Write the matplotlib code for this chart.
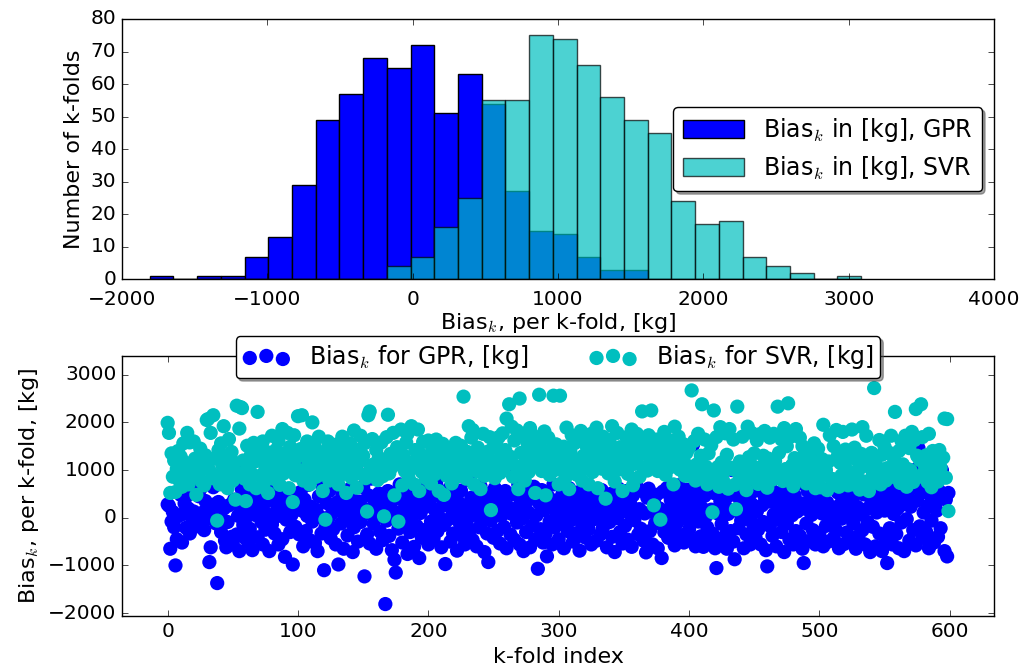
import matplotlib
matplotlib.use('Agg')
import matplotlib.pyplot as plt
import numpy as np

# histogram bin counts (30 bins starting at -1810 kg)
bin_start = -1810
bin_width = 163.2
gpr_counts = [1, 0, 1, 1, 7, 13, 29, 49, 57, 68, 65, 72, 51, 63, 54,
              27, 15, 14, 7, 3, 3, 0, 0, 0, 0, 0, 0, 0, 0, 0]
svr_counts = [0, 0, 0, 0, 0, 0, 0, 0, 0, 0, 4, 7, 16, 25, 55,
              55, 75, 74, 66, 56, 49, 45, 24, 17, 18, 7, 4, 2, 0, 1]

# bias per k-fold [kg], estimated from the bottom panel
gpr_bias = [
    280, 250, -650, -80, 120, -200, -1000, -450, 30, 560, 480, -520, 80, 300, -210, 470, 190, -330, 60, -90, 130, 520, 20, -180, 450,
    600, -40, 110, -260, 350, 80, -10, -930, -620, 150, 640, 280, -120, -1370, 330, 10, -300, 720, 190, -480, -620, -90, 260, 810, -400,
    -560, 380, 1080, -350, 40, -700, 220, 590, -150, -420, 0, 460, -520, -230, 150, -680, 320, 60, 1490, -410, 200, 530, -90, -560, 300,
    -250, 80, 680, -700, 380, -140, 410, -330, 20, 250, -560, 570, 110, -450, 360, -820, -40, 160, 520, -300, 60, -980, 440, -190, 280,
    1050, -350, 540, 150, -600, 380, -280, 40, 690, -470, 230, -80, 820, -530, 170, -700, 450, 20, -330, 620, -1100, -210, 310, -40, 560,
    -430, 90, -240, 740, -560, 320, -980, 180, -120, 480, -650, 30, 260, -370, 590, -60, 410, -720, -200, 150, 1000, -500, 340, -90, 220,
    640, -1230, 90, -350, 470, -540, 820, 210, -120, 380, -650, 60, 510, -290, 170, -470, 300, -1810, -60, 560, -380, 240, -680, 30, -880,
    -1150, 410, -230, 700, 120, -520, 350, -90, 600, -760, 180, -300, 480, 50, -610, 290, -170, 530, -845, 100, -420, 650, 220, -250, 380,
    -560, 300, -80, 540, -430, 160, 720, -280, 20, 450, -620, 250, -150, -971, 380, -40, 610, -500, 180, -330, 90, 490, -690, 330, -110,
    570, -380, 140, -560, 260, -30, 790, -250, 420, -470, 60, 310, -600, 180, -200, 660, -90, 390, -720, 120, -330, -929, 500, -60, 270,
    -420, 620, 150, -280, 450, -540, 40, 330, -190, 560, -640, 230, 1070, -350, 80, 490, -460, 190, -100, 700, -560, 360, -20, -700, 260,
    -300, 520, 110, -620, 400, -160, 650, -450, 50, -1070, 310, -240, 580, -520, 160, -330, -810, 440, -80, 260, -560, 700, -200, 120, 370,
    -450, 230, -120, 510, -640, 80, 360, -280, 620, -60, 170, -500, 420, -330, 30, 280, -690, 560, -150, 340, -410, 90, 650, -240, 190,
    -560, 450, -30, 300, -480, 1520, 120, -350, 580, -200, 40, 390, -620, 230, -90, 500, -400, 160, -720, 330, -10, 610, -300, 210, -540,
    380, -170, 560, -460, 100, 290, -610, 470, -50, 600, 650, -350, 180, -230, 560, -480, 90, -727, 420, 610, -280, 130, -560, 340, -120,
    480, -640, 200, -60, -845, 550, -300, 150, 620, -420, 30, 370, -190, 520, -580, 240, -100, 680, -360, 110, 420, -520, 270, -30, 590,
    -250, 380, -470, 1530, 120, -600, 310, -80, 560, -390, 200, -610, 460, 30, -200, 640, -480, 170, -330, 520, -640, -1055, 90, -560, 350,
    -130, 600, -400, 240, -650, 80, 470, -280, 1000, -500, -870, 150, 570, -220, 380, -60, 720, -640, 200, -350, 430, 10, -560, 290, -130,
    560, -420, 130, -250, 680, -560, 260, -90, 450, -680, -1020, 340, -170, 590, -380, 70, 410, -600, 220, -40, 530, -300, 150, -720, 380,
    -120, 640, -460, 260, 50, -560, 470, -280, 130, 720, -380, 300, -650, -950, 190, -120, 560, -490, 360, 60, -260, 610, -560, 1180, 240,
    -330, 450, 90, -600, 580, -170, 320, -500, 200, -60, 690, -420, 140, -270, 530, -640, 280, -20, 460, -550, 170, -310, 620, 40, -450,
    380, -120, 560, -650, 230, -380, 710, 70, -260, 490, -560, 180, -90, 600, -720, 320, -190, 470, -600, 110, 560, -330, 250, -700, 420,
    150, -480, -950, 330, -220, 610, -560, 80, 450, -340, 190, -640, 520, -100, 280, -700, 390, -30, 560, -480, 230, 640, -260, 1000, -580,
    360, 1460, -180, 520, -420, 110, 680, -300, 250, -640, 480, -60, 600, -520, 300, 150, -400, 560, -220, 1000, 430, -700, 380, -811, 520,
]

svr_bias = [
    1990, 1780, 520, 1350, 860, 1200, 540, 1020, 1400, 780, 1280, 650, 1560, 940, 1150, 1780, 700, 1580, 1030, 870, 1600, 1240, 480, 1080, 950,
    1450, 760, 1120, 680, 1310, 2050, 2070, 1000, 1780, 830, 2150, 1240, 890, -60, 1420, 700, 1560, 1100, 1920, 840, 1270, 620, 1650, 1010, 1380,
    780, 1160, 380, 2350, 940, 1870, 2320, 2300, 1200, 820, 350, 1510, 1050, 700, 1330, 910, 1570, 1180, 620, 2220, 1460, 880, 1250, 1600, 740,
    1040, 1380, 520, 1280, 960, 1720, 1160, 810, 1420, 1010, 1610, 690, 1230, 1860, 930, 1350, 1080, 1780, 620, 1490, 1120, 330, 1730, 890, 1270,
    2130, 1000, 1440, 2150, 780, 1300, 960, 1600, 1150, 700, 1340, 2000, 1050, 1480, 860, 1250, 1700, 910, 1120, 560, 1380, -40, 1010, 1600, 780,
    1190, 1460, 830, 1330, 1060, 1540, 700, 1260, 900, 1700, 1110, 1380, 520, 1220, 960, 1560, 840, 1280, 1830, 1040, 630, 1420, 1180, 1720, 910,
    1300, 1560, 830, 130, 2150, 2230, 1070, 1650, 1120, 930, 1420, 790, 1260, 1010, 1580, 870, 30, 1200, 1690, 2160, 930, 1340, 1060, 1780, 470,
    1150, 1480, -80, 1220, 1850, 680, 1310, 980, 1580, 1760, 820, 1150, 1920, 1040, 700, 1420, 1240, 1850, 560, 1330, 960, 1590, 1130, 830, 1260,
    1620, 1080, 720, 1450, 1280, 910, 1640, 1170, 560, 1380, 1010, 1550, 480, 1230, 880, 1340, 1080, 1450, 720, 1200, 1010, 1570, 860, 1300, 1120,
    1510, 960, 2540, 1230, 820, 1380, 1920, 1050, 1680, 1840, 700, 1260, 980, 1470, 1100, 600, 1350, 1760, 880, 1220, 1050, 1390, 1690, 160, 1010,
    1480, 830, 1580, 1200, 1690, 940, 1330, 1770, 1050, 1420, 2080, 1150, 2380, 1280, 1910, 860, 1620, 1090, 1830, 600, 2500, 1360, 1020, 1700, 780,
    1240, 1570, 960, 1880, 1130, 1450, 1710, 520, 1290, 1080, 2580, 1590, 980, 1360, 1810, 470, 1150, 1680, 900, 1420, 1220, 2560, 1000, 1540, 1300,
    700, 2560, 1250, 1060, 1490, 830, 1890, 1140, 600, 1380, 1730, 1010, 1560, 1220, 900, 1670, 1120, 1820, 780, 1300, 1560, 1040, 1420, 700, 1250,
    1760, 960, 1510, 1140, 1890, 620, 1350, 1580, 1030, 1700, 1240, 400, 1440, 930, 1630, 1180, 1920, 1060, 760, 1330, 1780, 1010, 1480, 1200, 560,
    1390, 1080, 1690, 920, 1500, 1250, 1850, 680, 1130, 1550, 1760, 1300, 860, 1460, 2230, 1050, 1600, 1340, 990, 1730, 1240, 2250, 1410, 260, 1120,
    1640, 980, 1340, -40, 1560, 1160, 1800, 900, 1470, 1230, 1050, 1620, 1380, 700, 1910, 1150, 1300, 1700, 1010, 1480, 1260, 1540, 880, 1360, 1090,
    1460, 880, 2670, 1050, 1610, 780, 1120, 1760, 900, 1300, 2380, 830, 1640, 1070, 700, 1350, 980, 1520, 115, 2250, 880, 1690, 1060, 650, 1900,
    1160, 790, 980, 1770, 1320, 610, 1860, 1050, 1020, 1640, 690, 180, 2330, 930, 1180, 760, 1700, 1010, 1000, 580, 1910, 1270, 820, 1780, 1080,
    1350, 890, 1620, 710, 1750, 1060, 850, 1300, 1820, 980, 630, 1240, 1680, 1100, 800, 1760, 1190, 990, 2330, 1360, 920, 1640, 770, 1880, 1020,
    1500, 2400, 910, 1700, 1100, 660, 1250, 1860, 1040, 830, 1680, 1190, 1500, 830, 1340, 720, 1090, 1430, 950, 1210, 1000, 1560, 620, 780, 1450,
    1080, 640, 1230, 1950, 900, 1000, 580, 1180, 1730, 820, 810, 1500, 720, 1840, 1290, 650, 1150, 890, 1800, 760, 1430, 1000, 680, 1250, 940,
    1850, 700, 1470, 830, 1200, 1000, 590, 1340, 1900, 760, 1130, 1720, 1080, 560, 690, 1360, 900, 2720, 1240, 870, 1050, 1630, 700, 1320, 860,
    1490, 780, 1040, 1370, 980, 1720, 860, 1250, 2220, 900, 1080, 1400, 730, 1610, 1120, 890, 1720, 650, 1020, 1460, 990, 1800, 750, 1630, 2280,
    1300, 860, 1210, 2380, 1690, 930, 1080, 1310, 750, 1760, 1220, 640, 1400, 900, 1300, 1050, 760, 1420, 1050, 890, 1260, 2080, 840, 2070, 140,
]

plt.style.use('classic')
plt.rcParams['figure.facecolor'] = 'white'
plt.rcParams['savefig.facecolor'] = 'white'
plt.rcParams['font.size'] = 14.5

fig, (ax1, ax2) = plt.subplots(2, 1, figsize=(10.23, 6.71), dpi=100)
fig.subplots_adjust(left=0.1193, right=0.9717, top=0.9717, bottom=0.082, hspace=0.293)

edges = bin_start + bin_width * np.arange(len(gpr_counts) + 1)
centers = edges[:-1] + bin_width / 2

ax1.hist(centers, bins=edges, weights=gpr_counts, color='b',
         label=r'Bias$_k$ in [kg], GPR')
ax1.hist(centers, bins=edges, weights=svr_counts, color='c', alpha=0.7,
         label=r'Bias$_k$ in [kg], SVR')
ax1.set_xlim(-2000, 4000)
ax1.set_ylim(0, 80)
ax1.tick_params(axis='x', pad=8)
ax1.set_xlabel(r'Bias$_k$, per k-fold, [kg]', fontsize=16, labelpad=1)
ax1.set_ylabel('Number of k-folds', fontsize=16)
ax1.legend(loc='center right', fancybox=True, shadow=True, fontsize=17,
           handlelength=2.6, handleheight=0.8, labelspacing=0.4)

idx_gpr = np.arange(len(gpr_bias))
idx_svr = np.arange(len(svr_bias))
ax2.scatter(idx_gpr, gpr_bias, s=105, c='b', edgecolors='none',
            label=r'Bias$_k$ for GPR, [kg]')
ax2.scatter(idx_svr, svr_bias, s=105, c='c', edgecolors='none',
            label=r'Bias$_k$ for SVR, [kg]')
ax2.set_xlim(-35, 634)
ax2.set_ylim(-2060, 3400)
ax2.set_xticks([0, 100, 200, 300, 400, 500, 600])
ax2.set_yticks([-2000, -1000, 0, 1000, 2000, 3000])
ax2.set_xlabel('k-fold index', fontsize=16)
ax2.set_ylabel(r'Bias$_k$, per k-fold, [kg]', fontsize=16)
ax2.legend(loc='upper center', bbox_to_anchor=(0.5, 1.075), ncol=2,
           fancybox=True, shadow=True, fontsize=17, borderaxespad=0,
           columnspacing=2.6, borderpad=0.3)

fig.savefig('out.png', dpi=100)
